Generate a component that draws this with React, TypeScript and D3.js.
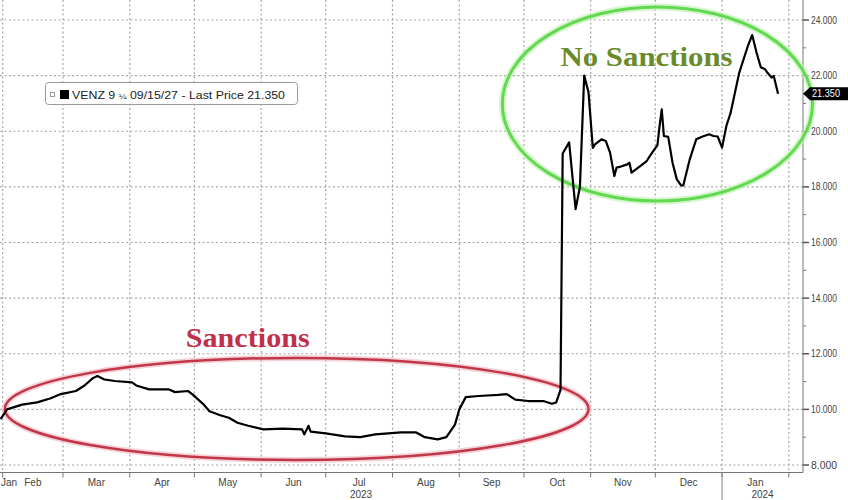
import React from "react";
import * as d3 from "d3";

// ---- data ----
const dates: string[] = [
  "2023-01-31","2023-02-03","2023-02-10","2023-02-17","2023-02-23","2023-02-28",
  "2023-03-07","2023-03-11","2023-03-15","2023-03-17","2023-03-20","2023-03-25",
  "2023-04-02","2023-04-04","2023-04-10","2023-04-19","2023-04-22","2023-04-28","2023-04-30",
  "2023-05-05","2023-05-08","2023-05-13","2023-05-17","2023-05-21","2023-05-26",
  "2023-06-02","2023-06-11","2023-06-20","2023-06-21","2023-06-23","2023-06-24",
  "2023-07-01","2023-07-10","2023-07-17","2023-07-24",
  "2023-08-05","2023-08-12","2023-08-16","2023-08-22","2023-08-26","2023-08-30",
  "2023-09-01","2023-09-04","2023-09-10","2023-09-19","2023-09-23","2023-09-27",
  "2023-10-03","2023-10-10","2023-10-14","2023-10-16","2023-10-18","2023-10-19",
  "2023-10-22","2023-10-25","2023-10-27","2023-10-29","2023-10-31",
  "2023-11-02","2023-11-03","2023-11-06","2023-11-08","2023-11-10","2023-11-12",
  "2023-11-13","2023-11-15","2023-11-18","2023-11-19","2023-11-20","2023-11-24",
  "2023-11-27","2023-11-29",
  "2023-12-02","2023-12-03","2023-12-04","2023-12-05","2023-12-07","2023-12-09",
  "2023-12-11","2023-12-13","2023-12-14","2023-12-17","2023-12-20","2023-12-23",
  "2023-12-26","2023-12-28","2023-12-30",
  "2024-01-01","2024-01-03","2024-01-05","2024-01-09","2024-01-11","2024-01-13",
  "2024-01-15","2024-01-17","2024-01-19","2024-01-21","2024-01-22","2024-01-24",
  "2024-01-25","2024-01-27",
];
const prices: number[] = [
  9.65, 10.0, 10.17, 10.25, 10.39, 10.55,
  10.66, 10.86, 11.13, 11.2, 11.08, 11.02,
  10.97, 10.86, 10.72, 10.72, 10.62, 10.66, 10.55,
  10.2, 9.93, 9.79, 9.7, 9.52, 9.41,
  9.28, 9.31, 9.28, 9.1, 9.41, 9.2,
  9.14, 9.03, 9.0, 9.1,
  9.17, 9.17, 9.0, 8.92, 9.0, 9.45,
  10.0, 10.44, 10.48, 10.52, 10.55, 10.35,
  10.3, 10.3, 10.2, 10.25, 10.7, 19.2,
  19.6, 17.2, 18.0, 22.0, 21.4,
  19.4, 19.53, 19.71, 19.65, 19.23, 18.39,
  18.69, 18.73, 18.81, 18.87, 18.51, 18.75,
  18.93, 19.17,
  19.5, 20.19, 20.79, 19.83, 19.8, 18.87,
  18.27, 18.05, 18.05, 18.99, 19.71, 19.81,
  19.89, 19.83, 19.81,
  19.41, 20.19, 20.67, 22.11, 22.59, 23.07,
  23.46, 22.83, 22.3, 22.23, 22.11, 21.93,
  21.99, 21.35,
];
const lastPrice = 21.35;
const legendName = "VENZ 9";
const legendCoupon = "\u00BC";
const legendRest = " 09/15/27 - Last Price 21.350";
const yMajorTicks: number[] = [8, 10, 12, 14, 16, 18, 20, 22, 24];
const yMinorTicks: number[] = [9, 11, 13, 15, 17, 19, 21, 23];
const monthLabels: string[] = ["Jan","Feb","Mar","Apr","May","Jun","Jul","Aug","Sep","Oct","Nov","Dec","Jan"];
const monthStarts: string[] = [
  "2023-01-01","2023-02-01","2023-03-01","2023-04-01","2023-05-01","2023-06-01",
  "2023-07-01","2023-08-01","2023-09-01","2023-10-01","2023-11-01","2023-12-01","2024-01-01",
];
const gridMonths: string[] = [
  "2023-02-01","2023-03-01","2023-04-01","2023-05-01","2023-06-01","2023-07-01",
  "2023-08-01","2023-09-01","2023-10-01","2023-11-01","2023-12-01","2024-01-01","2024-02-01",
];
const yearLabels: string[] = ["2023", "2024"];
const yearStarts: string[] = ["2023-01-01", "2024-01-01"];

// annotations in data units
const redEllipse = { from: "2023-02-02", to: "2023-10-31", lo: 8.18, hi: 11.85 };
const greenEllipse = { from: "2023-09-21", to: "2024-02-12", lo: 17.49, hi: 24.47 };
const sanctionsText = { date: "2023-04-27", value: 12.25, text: "Sanctions" };
const noSanctionsText = { date: "2023-10-18", value: 22.35, text: "No Sanctions" };

const W = 848;
const H = 500;
const plotRight = 803;
const plotBottom = 472.5;

export default function App() {
  const parse = d3.timeParse("%Y-%m-%d");
  const pd = (s: string) => parse(s) as Date;
  const x = d3
    .scaleTime()
    .domain([new Date(2023, 0, 30, 18), new Date(2024, 1, 7, 14)])
    .range([0, plotRight]);
  const y = d3.scaleLinear().domain([8, 24]).range([465, 20]);
  const fmt = d3.format(".3f");

  const pts = dates.map((d, i) => ({ d: pd(d), v: prices[i] }));
  const line = d3
    .line<{ d: Date; v: number }>()
    .x((p) => x(p.d))
    .y((p) => y(p.v));

  const font = "'Liberation Sans', Arial, sans-serif";
  const serif = "'Liberation Serif', 'Times New Roman', serif";
  const gridColor = "#a6a6a6";

  const domainStart = x.domain()[0];
  const domainEnd = x.domain()[1];

  const monthPos = monthStarts.map((m, i) => {
    const s = pd(m);
    const e = d3.timeMonth.offset(s, 1);
    const a = x(s < domainStart ? domainStart : s);
    const b = x(e > domainEnd ? domainEnd : e);
    return { label: monthLabels[i], cx: Math.max((a + b) / 2, 9) };
  });
  const yearPos = yearStarts.map((ys, i) => {
    const s = pd(ys);
    const e = d3.timeYear.offset(s, 1);
    const a = x(s < domainStart ? domainStart : s);
    const b = x(e > domainEnd ? domainEnd : e);
    return { label: yearLabels[i], cx: (a + b) / 2 };
  });

  const ell = (e: { from: string; to: string; lo: number; hi: number }) => {
    const x0 = x(pd(e.from));
    const x1 = x(pd(e.to));
    const y0 = y(e.hi);
    const y1 = y(e.lo);
    return { cx: (x0 + x1) / 2, cy: (y0 + y1) / 2, rx: (x1 - x0) / 2, ry: (y1 - y0) / 2 };
  };
  const red = ell(redEllipse);
  const green = ell(greenEllipse);
  const ty = y(lastPrice);

  return (
    <svg
      width={W}
      height={H}
      style={{ position: "absolute", left: 0, top: 0, display: "block", background: "#fff" }}
    >
      <rect x={0} y={0} width={W} height={H} fill="#fff" />
      {/* grid */}
      {yMajorTicks.map((t) => (
        <line key={"hg" + t} x1={0} x2={plotRight} y1={y(t)} y2={y(t)} stroke={gridColor} strokeWidth={1.2} strokeDasharray="2,2.5" />
      ))}
      {gridMonths.map((m) => (
        <line key={"vg" + m} x1={x(pd(m))} x2={x(pd(m))} y1={0} y2={plotBottom} stroke={gridColor} strokeWidth={1.2} strokeDasharray="2,2.5" />
      ))}

      {/* axes */}
      <line x1={plotRight} x2={plotRight} y1={0} y2={plotBottom} stroke="#777" strokeWidth={1} />
      <line x1={0} x2={plotRight} y1={plotBottom} y2={plotBottom} stroke="#777" strokeWidth={1} />
      {gridMonths.map((m) => (
        <line key={"xt" + m} x1={x(pd(m))} x2={x(pd(m))} y1={plotBottom} y2={plotBottom + 5} stroke="#777" />
      ))}
      <line x1={x(pd("2024-01-01"))} x2={x(pd("2024-01-01"))} y1={plotBottom} y2={H} stroke="#888" />
      {yMajorTicks.map((t) => (
        <g key={"yt" + t}>
          <line x1={plotRight} x2={plotRight + 6} y1={y(t)} y2={y(t)} stroke="#555" strokeWidth={1.5} />
          <text x={plotRight + 8} y={y(t) + 3.6} fontFamily={font} fontSize={10} fill="#444" textLength={26} lengthAdjust="spacingAndGlyphs">
            {fmt(t)}
          </text>
        </g>
      ))}
      {yMinorTicks.map((t) => (
        <line key={"ym" + t} x1={plotRight} x2={plotRight + 3} y1={y(t)} y2={y(t)} stroke="#777" />
      ))}
      {monthPos.map((m, i) => (
        <text key={"ml" + i} x={m.cx} y={486} textAnchor="middle" fontFamily={font} fontSize={10} fill="#444">
          {m.label}
        </text>
      ))}
      {yearPos.map((m, i) => (
        <text key={"yl" + i} x={m.cx} y={498} textAnchor="middle" fontFamily={font} fontSize={10} fill="#444">
          {m.label}
        </text>
      ))}

      {/* ellipses */}
      <ellipse cx={red.cx} cy={red.cy} rx={red.rx} ry={red.ry} fill="none" stroke="#f2c0c6" strokeWidth={6} opacity={0.7} />
      <ellipse cx={red.cx} cy={red.cy} rx={red.rx} ry={red.ry} fill="none" stroke="#c2364a" strokeWidth={2.5} />
      <ellipse cx={green.cx} cy={green.cy} rx={green.rx} ry={green.ry} fill="none" stroke="#c4f2b8" strokeWidth={7} opacity={0.7} />
      <ellipse cx={green.cx} cy={green.cy} rx={green.rx} ry={green.ry} fill="none" stroke="#62d951" strokeWidth={3} />

      {/* price line */}
      <path d={line(pts) || ""} fill="none" stroke="#000" strokeWidth={2.2} strokeLinejoin="round" />

      {/* annotation texts */}
      <text
        x={x(pd(sanctionsText.date))}
        y={y(sanctionsText.value)}
        fontFamily={serif}
        fontWeight="bold"
        fontSize={27}
        fill="#c0304a"
        textLength={124}
        lengthAdjust="spacingAndGlyphs"
      >
        {sanctionsText.text}
      </text>
      <text
        x={x(pd(noSanctionsText.date))}
        y={y(noSanctionsText.value)}
        fontFamily={serif}
        fontWeight="bold"
        fontSize={27}
        fill="#6a8a2c"
        textLength={172}
        lengthAdjust="spacingAndGlyphs"
      >
        {noSanctionsText.text}
      </text>

      {/* legend */}
      <rect x={45.5} y={82.5} width={252} height={22} rx={3} fill="#fff" stroke="#9a9a9a" />
      <rect x={50.5} y={92.5} width={4} height={4} fill="#fff" stroke="#999" />
      <rect x={60} y={90} width={9} height={9} fill="#000" />
      <text x={72} y={98.5} fontFamily={font} fontSize={10.5} fill="#222" textLength={213} lengthAdjust="spacingAndGlyphs">
        {legendName} <tspan fontSize={8}>{legendCoupon}</tspan>
        {legendRest}
      </text>

      {/* last price tag */}
      <path
        d={`M${plotRight},${ty} L${plotRight + 7},${ty - 6.5} L${W},${ty - 6.5} L${W},${ty + 6.5} L${plotRight + 7},${ty + 6.5} Z`}
        fill="#000"
      />
      <text x={plotRight + 9} y={ty + 3.6} fontFamily={font} fontSize={10} fill="#fff" textLength={28} lengthAdjust="spacingAndGlyphs">
        {fmt(lastPrice)}
      </text>
    </svg>
  );
}
